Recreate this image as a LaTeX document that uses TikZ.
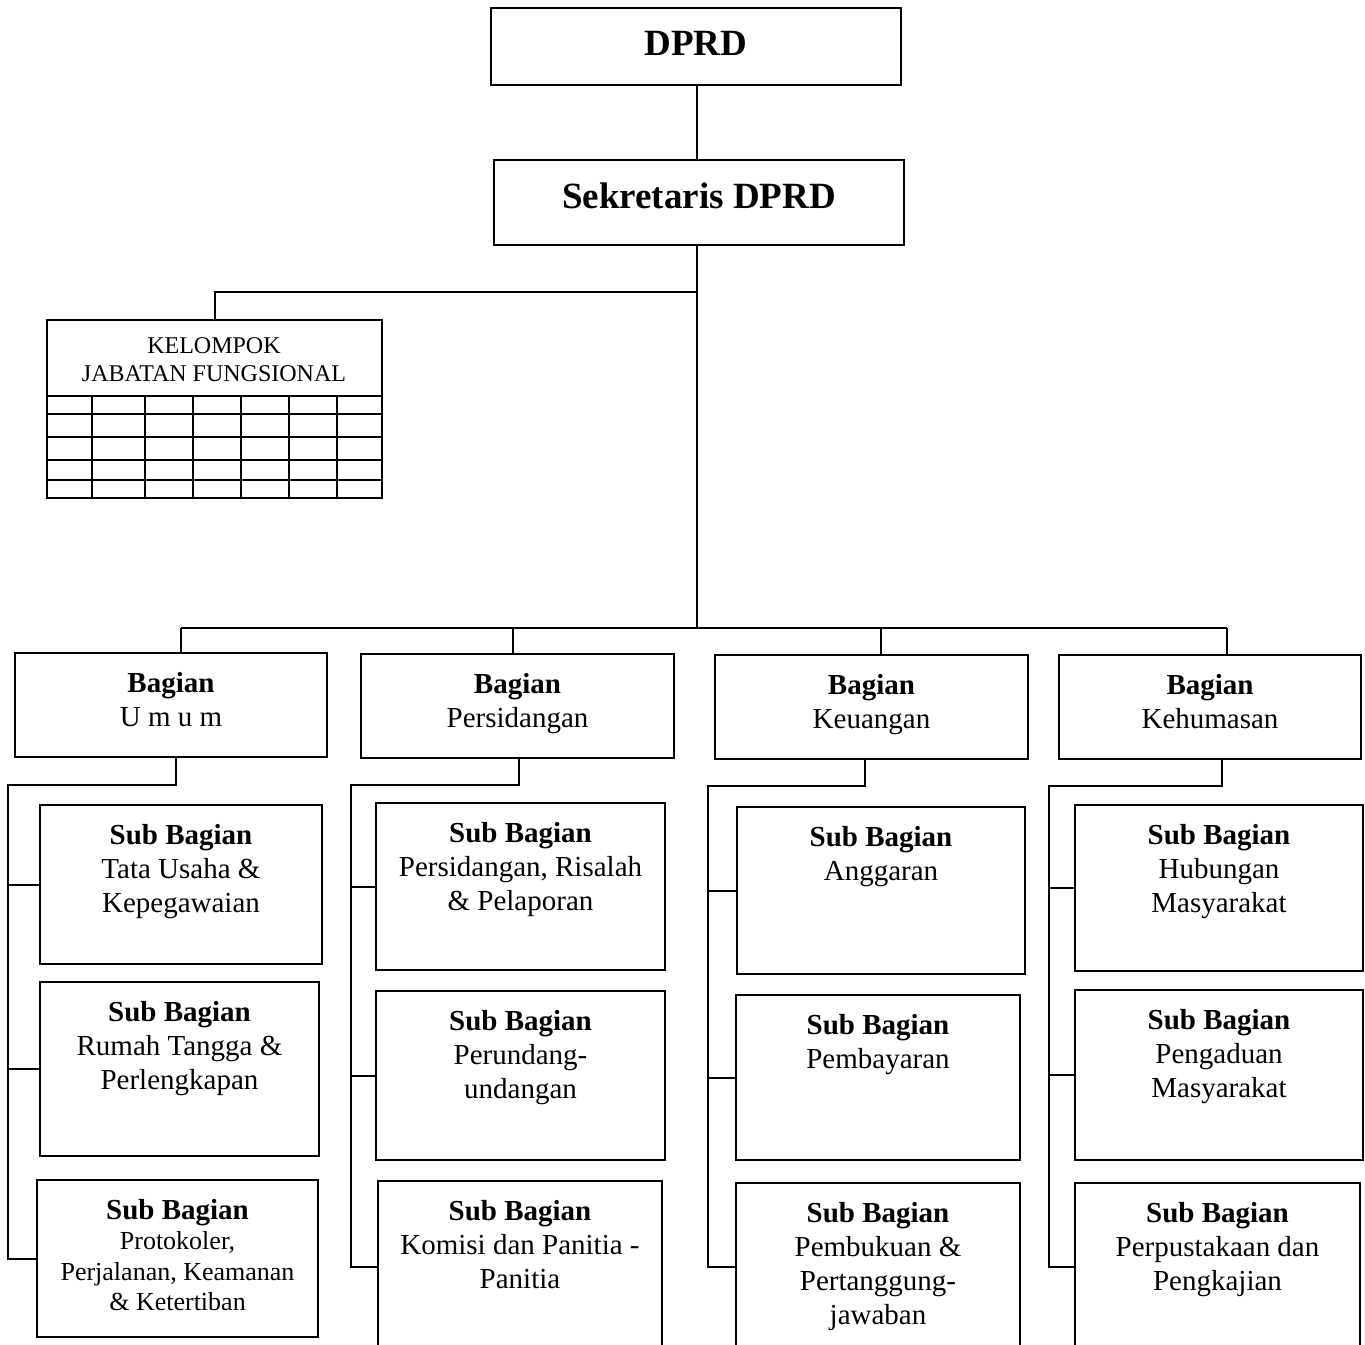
\documentclass[tikz,border=0pt]{standalone}
\usepackage{fontspec}
\setmainfont{Liberation Serif}
\usetikzlibrary{fit,calc}
\begin{document}
\begin{tikzpicture}[x=0.5pt,y=-0.5pt,
  box/.style={draw, line width=1.2pt, inner sep=0pt},
  conn/.style={line width=1pt},
  txt/.style={align=center, inner sep=0pt, anchor=north, font=\fontsize{14.5}{17}\selectfont},
  small/.style={align=center, inner sep=0pt, anchor=north, font=\fontsize{13}{15}\selectfont},
  big/.style={inner sep=0pt, font=\fontsize{18.5}{22}\selectfont\bfseries}]
\useasboundingbox (0,0) rectangle (1365,1344);
\clip (0,0) rectangle (1365,1344);

% top
\node[box, fit={(491,8) (901,85)}] (dprd) {};
\node[big] (dprdt) at ($(dprd.center)+(0,-3)$) {DPRD};
\node[box, fit={(494,160) (904,245)}] (sek) {};
\node[big] (sekt) at ($(sek.center)+(0,-7)$) {Sekretaris DPRD};
\coordinate (kj) at (697,292);
\coordinate (bus) at (697,628);
\draw[conn] (bus |- dprd.south) -- (bus |- sek.north);

% kelompok
\node[box, fit={(47,320) (382,498)}] (kel) {};
\node[align=center, inner sep=0pt, font=\fontsize{12}{14}\selectfont] (kelt) at (214,360) {KELOMPOK\\JABATAN FUNGSIONAL};
\foreach \yy in {396,414,437,460,480} \draw[line width=1pt] (47,\yy) -- (382,\yy);
\foreach \xx in {92,145,193,241,289,337} \draw[line width=1pt] (\xx,396) -- (\xx,498);

\draw[conn] (bus |- sek.south) -- (bus);
\draw[conn] (kel.north) |- (kj);

% bagian
\node[box, fit={(15,653) (327,757)}] (bu) {};
\node[box, fit={(361,654) (674,758)}] (bp) {};
\node[box, fit={(715,655) (1028,759)}] (bk) {};
\node[box, fit={(1059,655) (1361,759)}] (bh) {};
\node[txt] at ($(bu.north)+(0,20)$) {\textbf{Bagian}\\U m u m};
\node[txt] at ($(bp.north)+(0,20)$) {\textbf{Bagian}\\Persidangan};
\node[txt] at ($(bk.north)+(0,20)$) {\textbf{Bagian}\\Keuangan};
\node[txt] at ($(bh.north)+(0,20)$) {\textbf{Bagian}\\Kehumasan};

\coordinate (b1) at (181,628);
\coordinate (b2) at (513,628);
\coordinate (b3) at (881,628);
\coordinate (b4) at (1227,628);
\draw[conn] (b1) -- (b4);
\draw[conn] (b1) -- (b1 |- bu.north);
\draw[conn] (b2) -- (b2 |- bp.north);
\draw[conn] (b3) -- (b3 |- bk.north);
\draw[conn] (b4) -- (b4 |- bh.north);

% column 1
\node[box, fit={(40,805) (322,964)}] (u1) {};
\node[box, fit={(40,982) (319,1156)}] (u2) {};
\node[box, fit={(37,1180) (318,1337)}] (u3) {};
\node[txt] at ($(u1.north)+(0,20)$) {\textbf{Sub Bagian}\\Tata Usaha \&\\Kepegawaian};
\node[txt] at ($(u2.north)+(0,20)$) {\textbf{Sub Bagian}\\Rumah Tangga \&\\Perlengkapan};
\node[small, font=\fontsize{13}{15.2}\selectfont] at ($(u3.north)+(0,20)$) {{\fontsize{14.5}{17}\selectfont\textbf{Sub Bagian}}\\Protokoler,\\Perjalanan, Keamanan\\\& Ketertiban};
\coordinate (s1) at (176,785);
\coordinate (l1) at (8,785);
\draw[conn] (s1 |- bu.south) -- (s1) -- (l1) |- (u3.west);
\draw[conn] (l1 |- u1.west) -- (u1.west);
\draw[conn] (l1 |- u2.west) -- (u2.west);

% column 2
\node[box, fit={(376,803) (665,970)}] (p1) {};
\node[box, fit={(376,991) (665,1160)}] (p2) {};
\node[box, fit={(378,1181) (662,1380)}] (p3) {};
\node[txt] at ($(p1.north)+(0,20)$) {\textbf{Sub Bagian}\\Persidangan, Risalah\\\& Pelaporan};
\node[txt] at ($(p2.north)+(0,20)$) {\textbf{Sub Bagian}\\Perundang-\\undangan};
\node[txt] at ($(p3.north)+(0,20)$) {\textbf{Sub Bagian}\\Komisi dan Panitia -\\Panitia};
\coordinate (s2) at (519,785);
\coordinate (l2) at (351,785);
\coordinate (e2) at (351,1267);
\draw[conn] (s2 |- bp.south) -- (s2) -- (l2) -- (e2) -- (e2 -| p3.west);
\draw[conn] (l2 |- p1.west) -- (p1.west);
\draw[conn] (l2 |- p2.west) -- (p2.west);

% column 3
\node[box, fit={(737,807) (1025,974)}] (k1) {};
\node[box, fit={(736,995) (1020,1160)}] (k2) {};
\node[box, fit={(736,1183) (1020,1380)}] (k3) {};
\node[txt] at ($(k1.north)+(0,20)$) {\textbf{Sub Bagian}\\Anggaran};
\node[txt] at ($(k2.north)+(0,20)$) {\textbf{Sub Bagian}\\Pembayaran};
\node[txt] at ($(k3.north)+(0,20)$) {\textbf{Sub Bagian}\\Pembukuan \&\\Pertanggung-\\jawaban};
\coordinate (s3) at (865,786);
\coordinate (l3) at (708,786);
\coordinate (e3) at (708,1267);
\draw[conn] (s3 |- bk.south) -- (s3) -- (l3) -- (e3) -- (e3 -| k3.west);
\draw[conn] (l3 |- k1.west) -- (k1.west);
\draw[conn] (l3 |- k2.west) -- (k2.west);

% column 4
\node[box, fit={(1075,805) (1363,971)}] (h1) {};
\node[box, fit={(1075,990) (1363,1160)}] (h2) {};
\node[box, fit={(1075,1183) (1360,1380)}] (h3) {};
\node[txt] at ($(h1.north)+(0,20)$) {\textbf{Sub Bagian}\\Hubungan\\Masyarakat};
\node[txt] at ($(h2.north)+(0,20)$) {\textbf{Sub Bagian}\\Pengaduan\\Masyarakat};
\node[txt] at ($(h3.north)+(0,20)$) {\textbf{Sub Bagian}\\Perpustakaan dan\\Pengkajian};
\coordinate (s4) at (1222,786);
\coordinate (l4) at (1049,786);
\coordinate (e4) at (1049,1267);
\draw[conn] (s4 |- bh.south) -- (s4) -- (l4) -- (e4) -- (e4 -| h3.west);
\draw[conn] (l4 |- h1.west) -- (h1.west);
\draw[conn] (l4 |- h2.west) -- (h2.west);
\end{tikzpicture}
\end{document}
